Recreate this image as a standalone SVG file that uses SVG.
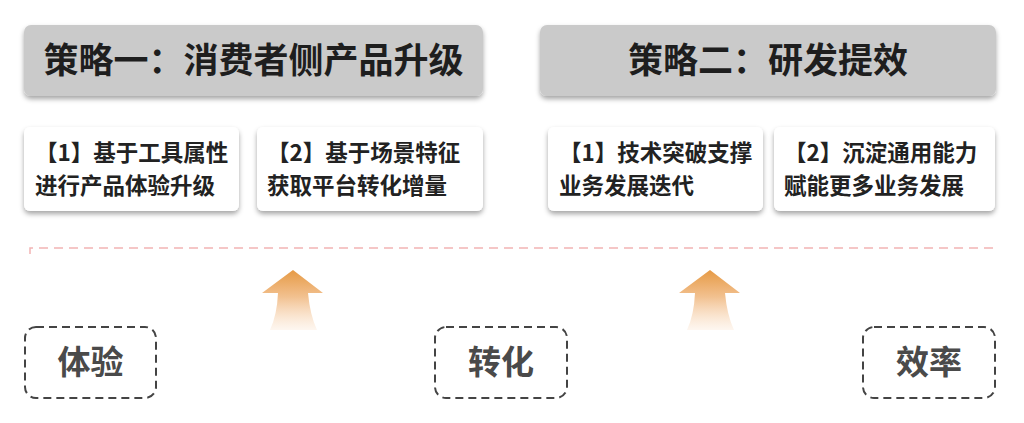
<svg xmlns="http://www.w3.org/2000/svg" width="1024" height="423" viewBox="0 0 1024 423">
<defs>
<style>
.hdr{fill:#cacaca;filter:url(#sh)}
.card{fill:#ffffff;filter:url(#sh)}
.ht{font-family:"Noto Sans CJK SC","Noto Sans",sans-serif;font-size:35px;font-weight:bold;fill:#1e1e1e;text-anchor:middle}
.ct{font-family:"Noto Sans CJK SC","Noto Sans",sans-serif;font-size:22.5px;font-weight:bold;fill:#222}
.dbox{fill:#ffffff;stroke:#444;stroke-width:2;stroke-dasharray:8 5}
.lt{font-family:"Noto Sans CJK SC","Noto Sans",sans-serif;font-size:33px;font-weight:bold;fill:#4a4a4a;text-anchor:middle}
.arrow{fill:url(#ag)}
</style>
<filter id="sh" x="-10%" y="-20%" width="120%" height="150%">
<feDropShadow dx="0" dy="3" stdDeviation="2.5" flood-color="#000" flood-opacity="0.35"/>
</filter>
<linearGradient id="ag" x1="0" y1="0" x2="0" y2="1">
<stop offset="0" stop-color="#e69a45"/>
<stop offset="0.45" stop-color="#f2c190"/>
<stop offset="1" stop-color="#fdf1e6" stop-opacity="0.6"/>
</linearGradient>
</defs>
<rect width="1024" height="423" fill="#ffffff"/>

<g id="header1">
<rect class="hdr" x="24" y="25" width="459" height="71" rx="7"/>
<text class="ht" x="253.5" y="73">策略一：消费者侧产品升级</text>
</g>
<g id="header2">
<rect class="hdr" x="540" y="25" width="456" height="71" rx="7"/>
<text class="ht" x="768" y="73">策略二：研发提效</text>
</g>

<g id="card1">
<rect class="card" x="24" y="127" width="215" height="84" rx="6"/>
<text class="ct" x="35" y="161">【1】基于工具属性</text>
<text class="ct" x="35" y="194">进行产品体验升级</text>
</g>
<g id="card2">
<rect class="card" x="257" y="127" width="226" height="84" rx="6"/>
<text class="ct" x="267" y="161">【2】基于场景特征</text>
<text class="ct" x="267" y="194">获取平台转化增量</text>
</g>
<g id="card3">
<rect class="card" x="548" y="127" width="215" height="84" rx="6"/>
<text class="ct" x="559" y="161">【1】技术突破支撑</text>
<text class="ct" x="559" y="194">业务发展迭代</text>
</g>
<g id="card4">
<rect class="card" x="774" y="127" width="221" height="84" rx="6"/>
<text class="ct" x="784" y="161">【2】沉淀通用能力</text>
<text class="ct" x="784" y="194">赋能更多业务发展</text>
</g>

<g id="connectors">
<path d="M30 254 V248 H995" fill="none" stroke="#f2b4b4" stroke-width="1.5" stroke-dasharray="9 6"/>
<path class="arrow" d="M293 270 L262 293 L278 293 Q277 315 270 330 L317 330 Q310 315 308 293 L323 293 Z"/>
<path class="arrow" d="M710 270 L679 293 L695 293 Q694 315 687 330 L734 330 Q727 315 725 293 L740 293 Z"/>
</g>

<g id="box1">
<rect class="dbox" x="25" y="327" width="131" height="71" rx="11"/>
<text class="lt" x="90.5" y="374">体验</text>
</g>
<g id="box2">
<rect class="dbox" x="435" y="327" width="132" height="71" rx="11"/>
<text class="lt" x="501" y="374">转化</text>
</g>
<g id="box3">
<rect class="dbox" x="863" y="327" width="132" height="71" rx="11"/>
<text class="lt" x="929" y="374">效率</text>
</g>
</svg>
